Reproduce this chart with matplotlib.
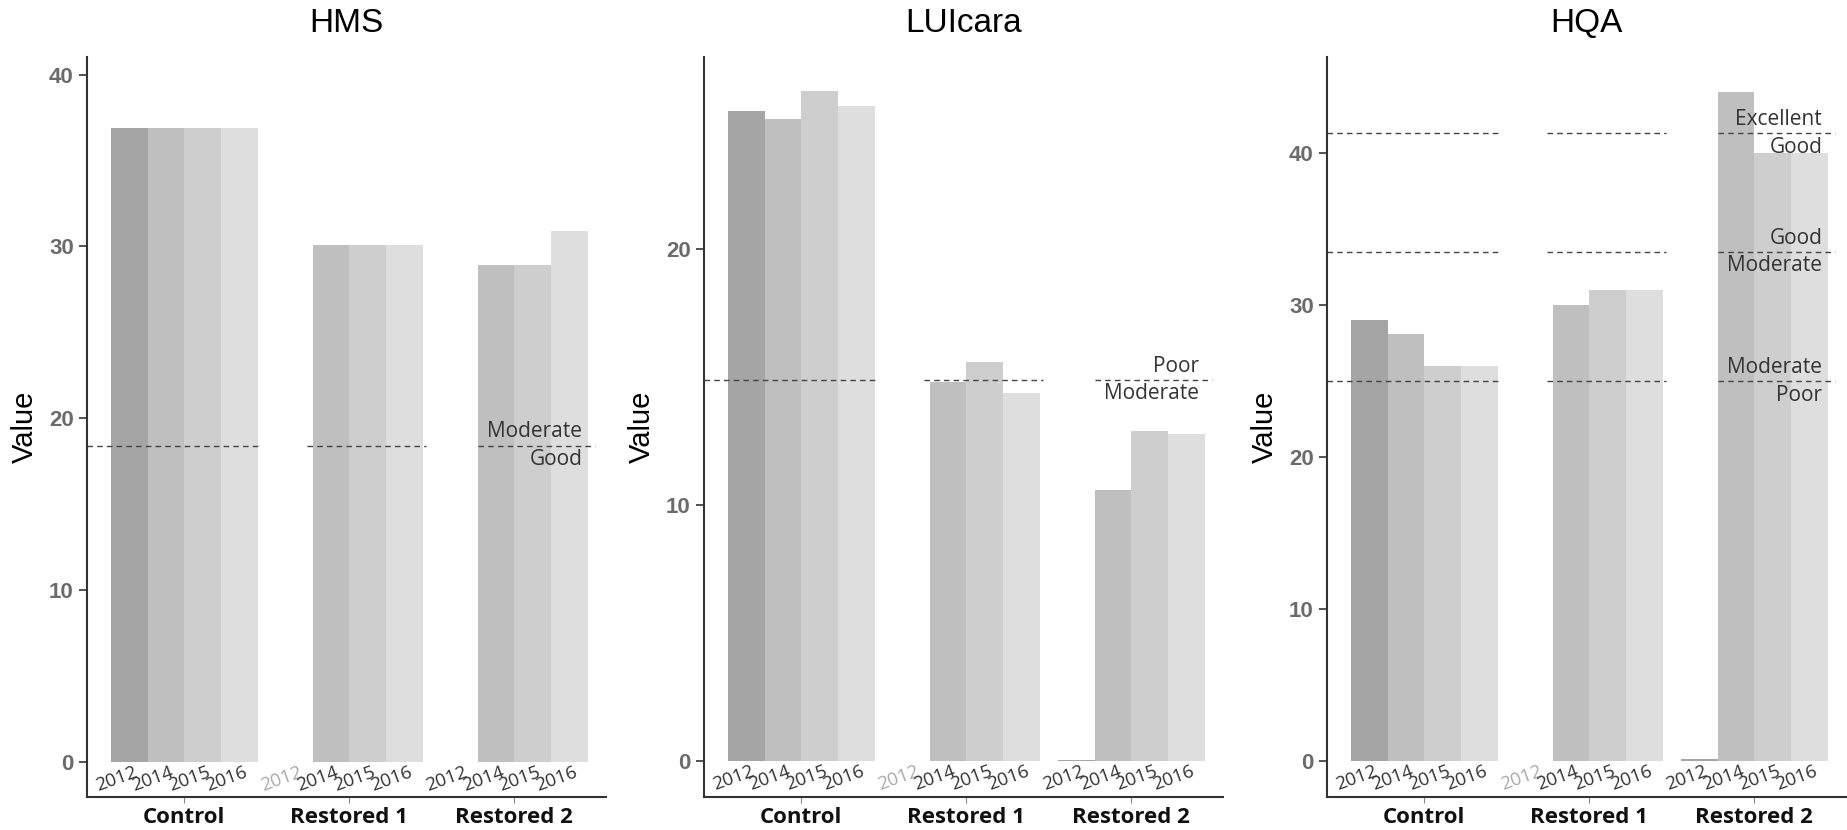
import numpy as np
import matplotlib
matplotlib.use("Agg")
import matplotlib.pyplot as plt

nan = np.nan
years = ["2012", "2014", "2015", "2016"]
groups = ["Control", "Restored 1", "Restored 2"]

hms_control = [36.9, 36.9, 36.9, 36.9]
hms_rest1 = [nan, 30.1, 30.1, 30.1]
hms_rest2 = [nan, 28.9, 28.9, 30.9]

lui_control = [25.4, 25.1, 26.2, 25.6]
lui_rest1 = [nan, 14.8, 15.6, 14.4]
lui_rest2 = [0.05, 10.6, 12.9, 12.8]

hqa_control = [29.0, 28.1, 26.0, 26.0]
hqa_rest1 = [nan, 30.0, 31.0, 31.0]
hqa_rest2 = [0.15, 44.0, 40.0, 40.0]

hms_lines = [18.4]
hms_above = ["Moderate"]
hms_below = ["Good"]

lui_lines = [14.9]
lui_above = ["Poor"]
lui_below = ["Moderate"]

hqa_lines = [41.3, 33.5, 25.0]
hqa_above = ["Excellent", "Good", "Moderate"]
hqa_below = ["Good", "Moderate", "Poor"]

fill = ["#a5a5a5", "#bfbfbf", "#cecece", "#dedede"]
calibri = ["Open Sans", "DejaVu Sans"]
arial = ["Liberation Sans", "DejaVu Sans"]

fig = plt.figure(figsize=(18.47, 8.30), dpi=100)
W, H = 1847.0, 830.0
lefts = [87, 704, 1327]
aw = 519


def panel(left, title, data, ylim, yticks, lines, above, below):
    ax = fig.add_axes([left / W, 1 - 797 / H, aw / W, (797 - 57.5) / H])
    step = 4.5
    for g, vals in enumerate(data):
        x = g * step + np.arange(4)
        ax.bar(x, vals, width=1.0, color=fill, linewidth=0)
        for i in range(4):
            col = "#aaaaaa" if (g == 1 and i == 0) else "#333333"
            ax.annotate(years[i], (x[i], 0), xytext=(3, -1), textcoords="offset points",
                        ha="right", va="top", rotation=20, rotation_mode="anchor",
                        fontsize=13.5, color=col, family=calibri)
    # threshold lines, drawn per group
    spans = [(-1.15, 3.6), (4.85, 8.1), (9.5, 12.7)]
    for y in lines:
        for a, b in spans:
            ax.plot([a, b], [y, y], color="#444444", lw=1.0, ls=(0, (4, 3)))
    for y, t1, t2 in zip(lines, above, below):
        ax.annotate(t1, (12.35, y), xytext=(0, 10), textcoords="offset points",
                    ha="right", va="center", fontsize=15, color="#333333", family=calibri)
        ax.annotate(t2, (12.35, y), xytext=(0, -10), textcoords="offset points",
                    ha="right", va="center", fontsize=15, color="#333333", family=calibri)
    ax.set_xlim(-1.15, 13.0)
    ax.set_ylim(*ylim)
    ax.set_yticks(yticks)
    ax.set_yticklabels([str(v) for v in yticks], fontsize=16, color="#6b6b6b",
                       fontweight="bold", family=arial)
    ax.set_xticks([g * step + 1.5 for g in range(3)])
    ax.set_xticklabels(groups, fontsize=16, fontweight="bold", color="#111111", family=calibri)
    ax.tick_params(axis="x", length=4, color="#888888", pad=3)
    ax.tick_params(axis="y", length=6, color="#333333", width=1.2)
    for s in ["top", "right"]:
        ax.spines[s].set_visible(False)
    for s in ["left", "bottom"]:
        ax.spines[s].set_color("#333333")
        ax.spines[s].set_linewidth(1.5)
    ax.set_ylabel("Value", fontsize=21, family=arial, labelpad=7)
    ax.set_title(title, fontsize=24, family=arial, pad=18)
    return ax


panel(lefts[0], "HMS", [hms_control, hms_rest1, hms_rest2], (-2.05, 41.0),
      [0, 10, 20, 30, 40], hms_lines, hms_above, hms_below)
panel(lefts[1], "LUIcara", [lui_control, lui_rest1, lui_rest2], (-1.4, 27.5),
      [0, 10, 20], lui_lines, lui_above, lui_below)
panel(lefts[2], "HQA", [hqa_control, hqa_rest1, hqa_rest2], (-2.37, 46.3),
      [0, 10, 20, 30, 40], hqa_lines, hqa_above, hqa_below)

fig.savefig("out.png", dpi=100)
